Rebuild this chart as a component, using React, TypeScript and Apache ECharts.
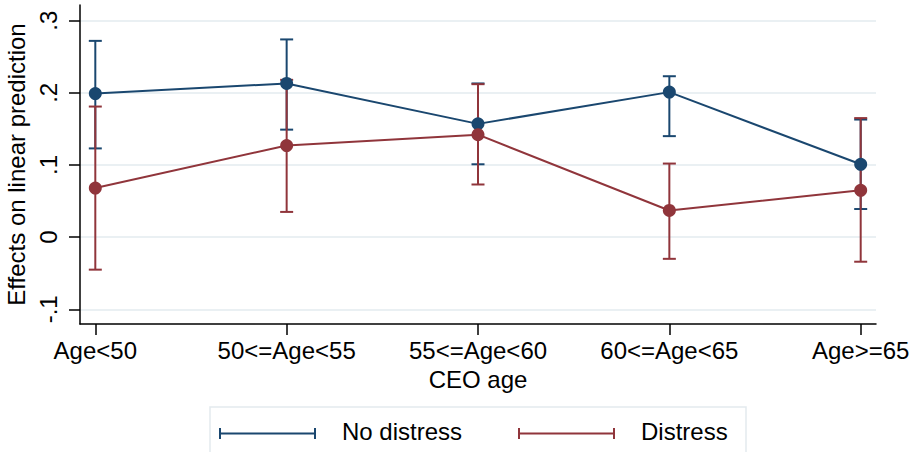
import React, { useEffect, useRef } from "react";
import * as echarts from "echarts";

const categories = ["Age<50", "50<=Age<55", "55<=Age<60", "60<=Age<65", "Age>=65"];
const seriesNames = ["No distress", "Distress"];
const noDistress = [0.199, 0.213, 0.157, 0.201, 0.101];
const noDistressLow = [0.123, 0.149, 0.101, 0.14, 0.039];
const noDistressHigh = [0.272, 0.274, 0.213, 0.223, 0.163];
const distress = [0.068, 0.127, 0.142, 0.037, 0.065];
const distressLow = [-0.045, 0.035, 0.073, -0.03, -0.034];
const distressHigh = [0.181, 0.218, 0.212, 0.102, 0.165];
const yTicks = [-0.1, 0, 0.1, 0.2, 0.3];
const yTickLabels = ["-.1", "0", ".1", ".2", ".3"];
const xTicks = [0, 1, 2, 3, 4];

const BLUE = "#1a476f";
const RED = "#90353b";
const FONT = "'Liberation Sans', Arial, sans-serif";
const GRIDC = "#eaf0f3";

function ciSeries(name: string, low: number[], high: number[], color: string) {
  return {
    type: "custom",
    name: name + " CI",
    silent: true,
    z: 2,
    data: low.map((l, i) => [i, l, high[i]]),
    renderItem: (params: any, api: any) => {
      const x = api.value(0);
      const p1 = api.coord([x, api.value(1)]);
      const p2 = api.coord([x, api.value(2)]);
      const cw = 6.5;
      const style = { stroke: color, lineWidth: 2 };
      return {
        type: "group",
        children: [
          { type: "line", shape: { x1: p1[0], y1: p1[1], x2: p2[0], y2: p2[1] }, style },
          { type: "line", shape: { x1: p1[0] - cw, y1: p1[1], x2: p1[0] + cw, y2: p1[1] }, style },
          { type: "line", shape: { x1: p2[0] - cw, y1: p2[1], x2: p2[0] + cw, y2: p2[1] }, style },
        ],
      };
    },
  };
}

function lineSeries(name: string, vals: number[], color: string) {
  return {
    type: "line",
    name,
    z: 3,
    data: vals.map((v, i) => [i, v]),
    symbol: "circle",
    symbolSize: 13,
    itemStyle: { color },
    lineStyle: { color, width: 2 },
  };
}

function legendItem(x: number, name: string, color: string) {
  const y = 433.5;
  const style = { stroke: color, lineWidth: 2 };
  return [
    { type: "line", shape: { x1: x, y1: y, x2: x + 95, y2: y }, style },
    { type: "line", shape: { x1: x, y1: y - 5.5, x2: x, y2: y + 5.5 }, style },
    { type: "line", shape: { x1: x + 95, y1: y - 5.5, x2: x + 95, y2: y + 5.5 }, style },
    {
      type: "text",
      x: x + 122,
      y: y - 2,
      style: { text: name, fill: "#000", font: `24px ${FONT}`, verticalAlign: "middle", align: "left" },
    },
  ];
}

export default function App() {
  const ref = useRef<HTMLDivElement>(null);
  useEffect(() => {
    const chart = echarts.init(ref.current!, null, { renderer: "svg" });
    chart.setOption({
      animation: false,
      backgroundColor: "#fff",
      grid: { left: 80, right: 41, top: 5, bottom: 128, containLabel: false, outerBoundsMode: "none" },
      xAxis: {
        type: "value",
        min: -0.08,
        max: 4.08,
        name: "CEO age",
        nameLocation: "middle",
        nameGap: 43,
        nameTextStyle: { fontSize: 24, fontFamily: FONT, color: "#000" },
        axisLine: { show: true, onZero: false, lineStyle: { color: "#000", width: 1.5 } },
        axisTick: { show: true, length: 11, customValues: xTicks, lineStyle: { color: "#000", width: 1.5 } },
        axisLabel: {
          customValues: xTicks,
          margin: 14,
          fontSize: 24,
          fontFamily: FONT,
          color: "#000",
          formatter: (v: number) => categories[Math.round(v)] ?? "",
        },
        splitLine: { show: false },
      },
      yAxis: {
        type: "value",
        min: -0.1203,
        max: 0.3217,
        name: "Effects on linear prediction",
        nameLocation: "middle",
        nameGap: 43,
        nameRotate: 90,
        nameTextStyle: { fontSize: 24, fontFamily: FONT, color: "#000" },
        axisLine: { show: true, onZero: false, lineStyle: { color: "#000", width: 1.5 } },
        axisTick: { show: true, length: 11, customValues: yTicks, lineStyle: { color: "#000", width: 1.5 } },
        axisLabel: {
          customValues: yTicks,
          rotate: 90,
          margin: 20,
          fontSize: 24,
          fontFamily: FONT,
          color: "#000",
          formatter: (v: number) => {
            const i = yTicks.findIndex((t) => Math.abs(t - v) < 1e-6);
            return i >= 0 ? yTickLabels[i] : "";
          },
        },
        splitLine: { show: true, lineStyle: { color: GRIDC, width: 2 } },
      },
      series: [
        ciSeries(seriesNames[0], noDistressLow, noDistressHigh, BLUE),
        ciSeries(seriesNames[1], distressLow, distressHigh, RED),
        lineSeries(seriesNames[0], noDistress, BLUE),
        lineSeries(seriesNames[1], distress, RED),
      ],
      graphic: [
        {
          type: "rect",
          shape: { x: 210, y: 407, width: 536, height: 60 },
          style: { fill: "#fff", stroke: "#e3eaee", lineWidth: 1.5 },
        },
        ...legendItem(220, seriesNames[0], BLUE),
        ...legendItem(519, seriesNames[1], RED),
      ],
    });
    return () => chart.dispose();
  }, []);
  return (
    <div
      ref={ref}
      style={{ position: "fixed", left: 0, top: 0, width: 917, height: 452, background: "#fff" }}
    />
  );
}
